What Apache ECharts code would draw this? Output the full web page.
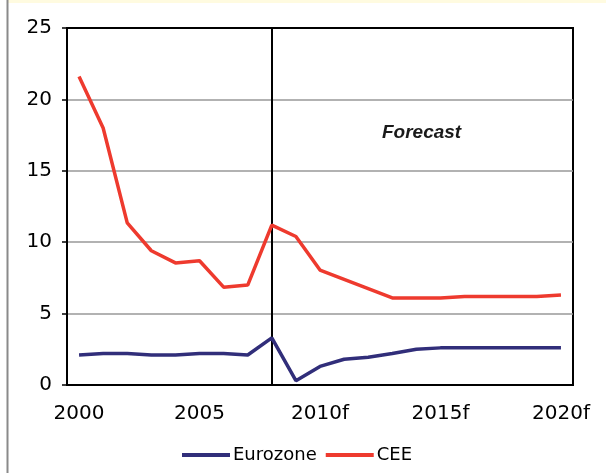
<!DOCTYPE html>
<html>
<head>
<meta charset="utf-8">
<script src="https://cdn.jsdelivr.net/npm/echarts@6/dist/echarts.min.js"></script>
<style>
  html, body { margin: 0; padding: 0; background: #fff; }
  #chart { width: 606px; height: 473px; }
</style>
</head>
<body>
<div id="chart"></div>
<script>
// Years 2000–2020; forecast years carry an "f" suffix
const years = ['2000','2001','2002','2003','2004','2005','2006','2007','2008',
  '2009f','2010f','2011f','2012f','2013f','2014f','2015f','2016f','2017f','2018f','2019f','2020f'];
const eurozone = [2.1, 2.2, 2.2, 2.1, 2.1, 2.2, 2.2, 2.1, 3.3, 0.3, 1.3, 1.8, 1.95, 2.2, 2.5, 2.6, 2.6, 2.6, 2.6, 2.6, 2.6];
const cee = [21.6, 18.0, 11.35, 9.4, 8.55, 8.7, 6.85, 7.0, 11.2, 10.4, 8.05, 7.4, 6.75, 6.1, 6.1, 6.1, 6.2, 6.2, 6.2, 6.2, 6.3];
const yTicks = { min: 0, max: 25, interval: 5 };
const forecastStart = '2008';

const axisFont = 'DejaVu Sans';
const chart = echarts.init(document.getElementById('chart'));

chart.setOption({
  animation: false,
  backgroundColor: '#ffffff',
  grid: {
    left: 67, right: 33, top: 28, bottom: 88,
    show: true, borderColor: '#000', borderWidth: 2, backgroundColor: 'transparent'
  },
  legend: {
    left: 177, top: 441,
    itemWidth: 48, itemHeight: 4, itemGap: 9,
    icon: 'rect',
    textStyle: { fontFamily: axisFont, fontSize: 18, color: '#000', padding: [0, 0, 0, -2] },
    data: ['Eurozone', 'CEE']
  },
  xAxis: {
    type: 'category',
    data: years,
    boundaryGap: true,
    axisLine: { lineStyle: { color: '#000', width: 2 } },
    axisTick: { show: false },
    axisLabel: {
      interval: 4, margin: 19,
      fontFamily: axisFont, fontSize: 20, color: '#000'
    },
    splitLine: { show: false }
  },
  yAxis: {
    type: 'value',
    min: yTicks.min, max: yTicks.max, interval: yTicks.interval,
    axisLine: { show: true, lineStyle: { color: '#000', width: 2 } },
    axisTick: { show: true, length: 5, lineStyle: { color: '#000', width: 1.5 } },
    axisLabel: { margin: 15, fontFamily: axisFont, fontSize: 20, color: '#000' },
    splitLine: { show: true, showMinLine: false, showMaxLine: false, lineStyle: { color: '#999', width: 1.5 } }
  },
  graphic: [
    { type: 'rect', shape: { x: 8, y: 0, width: 598, height: 3 }, style: { fill: '#fffbe0' }, silent: true },
    { type: 'line', shape: { x1: 7.5, y1: 0, x2: 7.5, y2: 473 }, style: { stroke: '#8a8a8a', lineWidth: 2 }, silent: true },
    {
      type: 'text', left: 382, top: 123,
      style: { text: 'Forecast', fontFamily: 'Liberation Sans', fontWeight: 'bold', fontStyle: 'italic', fontSize: 19, fill: '#1a1a1a' }
    }
  ],
  series: [
    {
      name: 'Eurozone', type: 'line', data: eurozone,
      symbol: 'none', lineStyle: { color: '#312e7a', width: 3.5 }, itemStyle: { color: '#312e7a' },
      z: 3
    },
    {
      name: 'CEE', type: 'line', data: cee,
      symbol: 'none', lineStyle: { color: '#ee3a2e', width: 3.5 }, itemStyle: { color: '#ee3a2e' },
      z: 3,
      markLine: {
        silent: true, symbol: 'none', label: { show: false },
        lineStyle: { color: '#000', width: 2, type: 'solid' },
        data: [{ xAxis: forecastStart }],
        z: 2
      }
    }
  ]
});
</script>
</body>
</html>
